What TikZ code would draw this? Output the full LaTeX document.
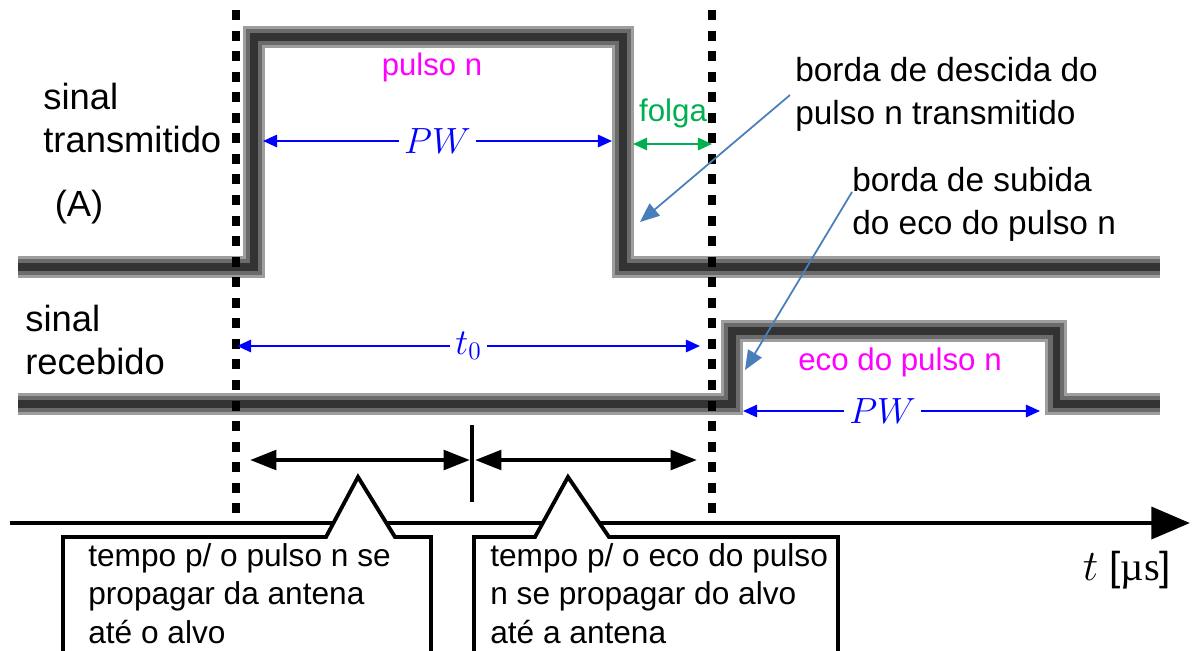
\documentclass[tikz,border=0pt]{standalone}
\usepackage{fontspec}
\setmainfont{Liberation Sans}
\newfontfamily\seriffont{Liberation Serif}
\usepackage{xcolor}
\usetikzlibrary{arrows.meta}
\definecolor{pulsemagenta}{RGB}{255,0,255}
\definecolor{gapgreen}{RGB}{0,176,80}
\definecolor{pwblue}{RGB}{0,0,255}
\definecolor{noteblue}{RGB}{74,126,187}
\tikzset{
  every dim label/.style={
    fill=white,inner sep=3pt,font=\fontsize{20}{24}\selectfont,
  },
}
\tikzset{
  every side label/.style={
    anchor=west,inner sep=0pt,align=left,
  },
}

\begin{document}
\begin{tikzpicture}[x=0.02cm,y=-0.02cm]
		\tikzstyle{tube}=[line width=13pt,draw=black!38,line join=miter,postaction={draw=black!58,line width=9pt},postaction={draw=black!80,line width=4pt}]
		\tikzstyle{marker}=[line width=4.5pt,dash pattern=on 5.7pt off 6pt]
		\tikzstyle{dim}=[pwblue,line width=1.2pt,{Triangle[length=8pt,width=7pt]}-{Triangle[length=8pt,width=7pt]}]
		\tikzstyle{halfspan}=[line width=2.5pt,{Triangle[length=15pt,width=11pt]}-{Triangle[length=15pt,width=11pt]}]
		\tikzstyle{note}=[noteblue,line width=1pt,-{Triangle[length=11pt,width=9pt]}]
		\tikzstyle{calloutbox}=[draw,line width=2.2pt,fill=white,line join=miter]
		\tikzstyle{calltext}=[anchor=north west,inner sep=0pt,align=left,font=\fontsize{18}{22}\selectfont]

		\useasboundingbox (0,0) rectangle (1192,650);
		\clip (0,0) rectangle (1192,650);

		% sinais
		\draw[tube] (18,267) -- (254,267) -- (254,37) -- (623,37) -- (623,267) -- (1160,267);
		\draw[tube] (18,404) -- (732,404) -- (732,331) -- (1056,331) -- (1056,404) -- (1160,404);

		\coordinate (m1top) at (236,10);
		\coordinate (m1bot) at (236,522);
		\coordinate (m2top) at (712,10);
		\coordinate (m2bot) at (712,522);
		\draw[marker] (m1top) -- (m1bot);
		\draw[marker] (m2top) -- (m2bot);

		\node[every side label,font=\fontsize{20.7}{25}\selectfont] (tx) at (43,118) {sinal\\transmitido};
		\node[font=\fontsize{20.7}{25}\selectfont] (tag) at (79,207) {(A)};
		\node[every side label,font=\fontsize{20.7}{25}\selectfont] (rx) at (25,340) {sinal\\recebido};

		\node[pulsemagenta,font=\fontsize{17.7}{21}\selectfont] (txpulse) at (432,67) {pulso n};
		\node[pulsemagenta,font=\fontsize{17.8}{21}\selectfont] (rxpulse) at (900,362) {eco do pulso n};
		\node[gapgreen,font=\fontsize{17.8}{21}\selectfont] (gap) at (673,113) {folga};

		% larguras
		\coordinate (pw1a) at (263,141);
		\coordinate (pw1b) at (612,141);
		\draw[dim] (pw1a) -- node[every dim label] (pw1) {$PW$} (pw1b);
		\coordinate (t0a) at (237,346);
		\coordinate (t0b) at (700,346);
		\draw[dim] (t0a) -- node[every dim label] (t0) {$t_0$} (t0b);
		\coordinate (pw2a) at (743,411);
		\coordinate (pw2b) at (1040,411);
		\draw[dim] (pw2a) -- node[every dim label,pos=0.47] (pw2) {$PW$} (pw2b);
		\coordinate (gapa) at (633,144);
		\coordinate (gapb) at (712,144);
		\draw[dim,gapgreen] (gapa) -- (gapb);

		\node[every side label,font=\fontsize{19}{24.4}\selectfont] (fall) at (795,94) {borda de descida do\\pulso n transmitido};
		\node[every side label,font=\fontsize{19}{24.4}\selectfont] (rise) at (852,204) {borda de subida\\do eco do pulso n};
		\coordinate (fallfrom) at (790,95);
		\coordinate (fallto) at (640,222);
		\coordinate (risefrom) at (852,192);
		\coordinate (riseto) at (745,370);
		\draw[note] (fallfrom) -- (fallto);
		\draw[note] (risefrom) -- (riseto);

		% eixo do tempo
		\coordinate (ax0) at (10,523);
		\coordinate (ax1) at (1190,523);
		\draw[line width=2.8pt,-{Triangle[length=22pt,width=18pt]}] (ax0) -- (ax1);
		\node[font=\fontsize{23}{27}\selectfont] (tunit) at (1127,570) {$t$ [{\seriffont µs}]};

		\coordinate (goa) at (250,460);
		\coordinate (gob) at (470,460);
		\coordinate (backa) at (475,460);
		\coordinate (backb) at (697,460);
		\coordinate (midtop) at (472,425);
		\coordinate (midbot) at (472,502);
		\draw[halfspan] (goa) -- (gob);
		\draw[halfspan] (backa) -- (backb);
		\draw[line width=2pt] (midtop) -- (midbot);

		\draw[calloutbox] (63,660) -- (63,537) -- (326,537) -- (358,477) -- (395,537) -- (431,537) -- (431,660);
		\draw[calloutbox] (474,660) -- (474,537) -- (535,537) -- (568,477) -- (609,537) -- (838,537) -- (838,660);
		\node[calltext] (gotext) at (88,543) {tempo p/ o pulso n se\\propagar da antena\\até o alvo};
		\node[calltext] (backtext) at (490,543) {tempo p/ o eco do pulso\\n se propagar do alvo\\até a antena};

	\end{tikzpicture}
\end{document}
